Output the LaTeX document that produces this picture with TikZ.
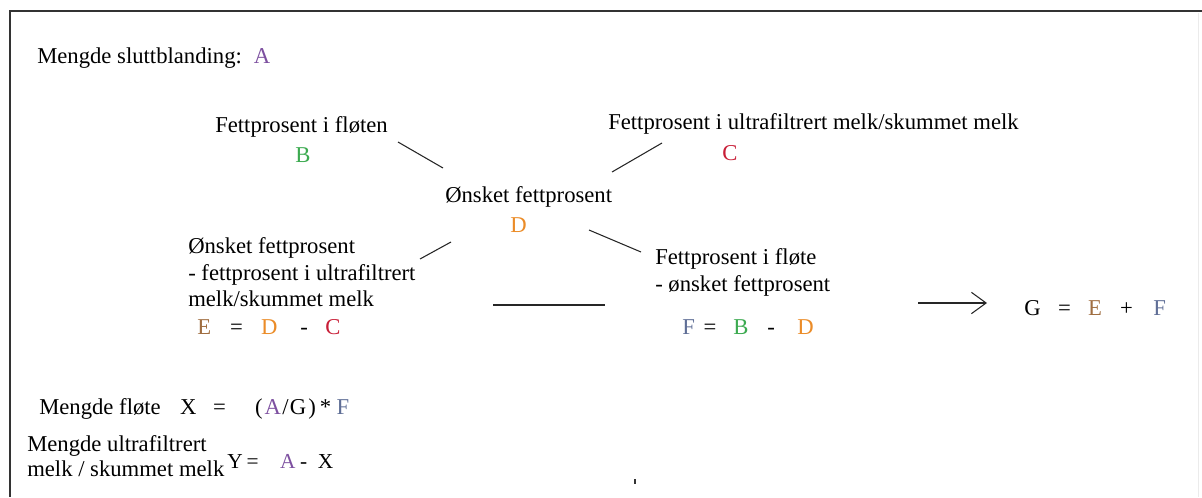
\documentclass[tikz,border=0pt]{standalone}
\usepackage{fontspec}
\setmainfont{Liberation Serif}
\usetikzlibrary{arrows.meta}
\definecolor{colA}{RGB}{125,80,160}
\definecolor{colB}{RGB}{60,170,80}
\definecolor{colC}{RGB}{200,30,55}
\definecolor{colD}{RGB}{235,140,40}
\definecolor{colE}{RGB}{160,110,65}
\definecolor{colF}{RGB}{95,110,150}

\begin{document}
\begin{tikzpicture}[
    x=0.75pt, y=-0.75pt,
    txt/.style={anchor=base west, inner sep=0pt, font=\fontsize{17}{20}\selectfont},
    smalltxt/.style={txt, font=\fontsize{16}{18}\selectfont},
    link/.style={line width=0.8pt, black!85},
    frame/.style={line width=1.5pt, black!80}
]
\useasboundingbox (0,0) rectangle (1202,497);

% frame
\coordinate (tl) at (10,11);
\coordinate (tr) at (1202,11);
\coordinate (bl) at (10,497);
\coordinate (rt) at (1198,13);
\coordinate (rb) at (1198,497);
\draw[frame] (tr) -- (tl) -- (bl);
\draw[black!8, line width=0.6pt] (rt) -- (rb);

\node[txt] (total) at (37,63) {Mengde sluttblanding:\hspace{9pt}\textcolor{colA}{A}};

\node[txt] (cream) at (215,132) {Fettprosent i fløten};
\node[txt, text=colB] (creamB) at (295,162) {B};
\node[txt] (skim) at (608,129) {Fettprosent i ultrafiltrert melk/skummet melk};
\node[txt, text=colC] (skimC) at (722,160) {C};
\node[txt] (target) at (445,202) {Ønsket fettprosent};
\node[txt, text=colD] (targetD) at (510,232) {D};

\node[txt] (diffE1) at (188,253) {Ønsket fettprosent};
\node[txt] (diffE2) at (188,280) {- fettprosent i ultrafiltrert};
\node[txt] (diffE3) at (188,306) {melk/skummet melk};
\node[txt] (eqE) at (197,334) {\textcolor{colE}{E}\hspace{14.3pt}=\hspace{13.7pt}\textcolor{colD}{D}\hspace{17pt}-\hspace{13.1pt}\textcolor{colC}{C}};

\node[txt] (diffF1) at (655,264) {Fettprosent i fløte};
\node[txt] (diffF2) at (655,291) {- ønsket fettprosent};
\node[txt] (eqF) at (682,334) {\textcolor{colF}{F}\hspace{6.5pt}=\hspace{12.8pt}\textcolor{colB}{B}\hspace{14.2pt}-\hspace{16.8pt}\textcolor{colD}{D}};

\node[txt] (sumG) at (1024,315) {G\hspace{13.2pt}=\hspace{12.9pt}\textcolor{colE}{E}\hspace{13.6pt}+\hspace{15.2pt}\textcolor{colF}{F}};

\node[txt] (amountX) at (39,414) {Mengde fløte\hspace{14.6pt}X\hspace{12.4pt}=\hspace{21.9pt}(\hspace{1.5pt}\textcolor{colA}{A}\hspace{1pt}/\hspace{1pt}G\hspace{1.5pt})\hspace{3pt}*\hspace{4pt}\textcolor{colF}{F}};
\node[txt] (amountY1) at (27,451) {Mengde ultrafiltrert};
\node[txt] (amountY2) at (27,476) {melk / skummet melk};
\node[smalltxt] (eqY) at (227,468) {Y\hspace{3pt}=\hspace{16pt}\textcolor{colA}{A}\hspace{3.5pt}-\hspace{8pt}X};

% connectors
\coordinate (c1a) at (398,142);
\coordinate (c1b) at (443,168);
\coordinate (c2a) at (612,172);
\coordinate (c2b) at (662,143);
\coordinate (c3a) at (420,259);
\coordinate (c3b) at (451,242);
\coordinate (c4a) at (589,230);
\coordinate (c4b) at (641,252);
\coordinate (c5a) at (493,305);
\coordinate (c5b) at (605,305);
\draw[link] (c1a) -- (c1b);
\draw[link] (c2a) -- (c2b);
\draw[link] (c3a) -- (c3b);
\draw[link] (c4a) -- (c4b);
\draw[link] (c5a) -- (c5b);

\coordinate (arrS) at (918,303);
\coordinate (arrE) at (987,303);
\draw[link, -{Straight Barb[length=11pt, width=16pt, line width=0.8pt]}] (arrS) -- (arrE);

\coordinate (dotA) at (635,479);
\coordinate (dotB) at (635,484);
\draw[black!80, line width=1pt] (dotA) -- (dotB);
\end{tikzpicture}
\end{document}
